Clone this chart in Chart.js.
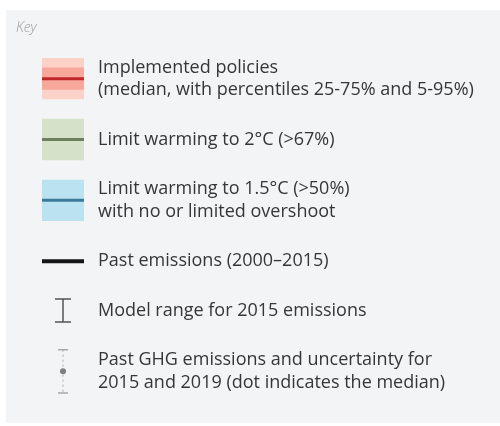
<!DOCTYPE html>
<html><head><meta charset="utf-8">
<script src="https://cdn.jsdelivr.net/npm/chart.js@4.4.1/dist/chart.umd.min.js"></script>
<style>html,body{margin:0;padding:0;background:#fff}canvas{display:block}</style>
</head><body><canvas id="c" width="500" height="426"></canvas>
<script>
// ---- content ----
const keyTitle = 'Key';
const keyLabels = [
  ['Implemented policies', '(median, with percentiles 25-75% and 5-95%)'],
  ['Limit warming to 2°C (>67%)'],
  ['Limit warming to 1.5°C (>50%)', 'with no or limited overshoot'],
  ['Past emissions (2000–2015)'],
  ['Model range for 2015 emissions'],
  ['Past GHG emissions and uncertainty for', '2015 and 2019 (dot indicates the median)']
];
const keyMarkers = ['band2', 'band1', 'band1', 'line', 'range', 'uncertainty'];

// ---- styles (kept apart from the content) ----
const markerStyles = [
  {outer: '#fcd1c8', inner: '#f8a79b', line: '#c1272b', lw: 3},
  {outer: '#d6e1ca', inner: '#d6e1ca', line: '#6e7f5f', lw: 3},
  {outer: '#bae2f1', inner: '#bae2f1', line: '#3c7c98', lw: 3},
  {line: '#151515', lw: 4},
  {line: '#555555', lw: 1.5},
  {line: '#a8a8a8', dot: '#7f7f7f', lw: 1}
];
const ROW_GAP = 1.16;       // gap between entries, in text-line units
const SWATCH_HALF = 0.89;   // half height of swatch, in text-line units
const INNER_HALF = 0.47;
const RANGE_HALF = 0.5;
const UNC_HALF = 0.95;

// row centres derived from the number of text lines per entry
const rows = [];
keyLabels.forEach((l, i) => {
  rows.push(i === 0 ? 0 : rows[i - 1] + (keyLabels[i - 1].length + l.length) / 2 + ROW_GAP);
});

const datasets = [];
const common = {xAxisID: 'x', yAxisID: 'y'};
keyMarkers.forEach((kind, i) => {
  const p = rows[i], s = markerStyles[i];
  if (kind === 'band2' || kind === 'band1') {
    datasets.push({...common, type: 'bar', order: 3, data: [{x: 0.5, y: [p - SWATCH_HALF, p + SWATCH_HALF]}],
      backgroundColor: s.outer, borderWidth: 0, barThickness: 42, grouped: false});
    if (kind === 'band2') {
      datasets.push({...common, type: 'bar', order: 2, data: [{x: 0.5, y: [p - INNER_HALF, p + INNER_HALF]}],
        backgroundColor: s.inner, borderWidth: 0, barThickness: 42, grouped: false});
    }
    datasets.push({...common, type: 'line', order: 1, data: [{x: 0, y: p}, {x: 1, y: p}],
      borderColor: s.line, borderWidth: s.lw, pointRadius: 0, borderCapStyle: 'butt'});
  } else if (kind === 'line') {
    datasets.push({...common, type: 'line', order: 1, data: [{x: 0, y: p}, {x: 1, y: p}],
      borderColor: s.line, borderWidth: s.lw, pointRadius: 0, borderCapStyle: 'butt'});
  } else if (kind === 'range') {
    datasets.push({...common, type: 'line', order: 1, data: [{x: 0.5, y: p - RANGE_HALF}, {x: 0.5, y: p + RANGE_HALF}],
      borderColor: s.line, borderWidth: s.lw, pointStyle: 'line', pointRadius: 8,
      pointBorderColor: s.line, pointBorderWidth: s.lw});
  } else if (kind === 'uncertainty') {
    datasets.push({...common, type: 'line', order: 1, data: [{x: 0.5, y: p - UNC_HALF}, {x: 0.5, y: p}, {x: 0.5, y: p + UNC_HALF}],
      borderColor: s.line, borderWidth: s.lw, borderDash: [2, 3],
      pointStyle: ['line', 'circle', 'line'], pointRadius: [5, 3, 5],
      pointBorderColor: [s.line, s.dot, s.line], pointBackgroundColor: s.dot, pointBorderWidth: [1.5, 0, 1.5]});
  }
});

const panelBg = {
  id: 'panelBg',
  beforeDraw(chart) {
    const c = chart.ctx;
    c.save();
    c.fillStyle = '#ffffff';
    c.fillRect(0, 0, chart.width, chart.height);
    c.fillStyle = '#f3f4f6';
    c.fillRect(6, 10, chart.width - 6, chart.height - 13);
    c.restore();
  }
};

new Chart(document.getElementById('c'), {
  data: {datasets},
  plugins: [panelBg],
  options: {
    responsive: false,
    animation: false,
    events: [],
    layout: {padding: {left: 16, right: 0, top: 0, bottom: 0}},
    plugins: {
      legend: {display: false},
      tooltip: {enabled: false},
      title: {
        display: true, text: keyTitle, align: 'start', color: '#9c9c9c',
        font: {family: 'Open Sans', size: 14, style: 'italic', weight: '300', lineHeight: 1.2},
        padding: {top: 20, bottom: 5}
      }
    },
    scales: {
      y: {type: 'linear', position: 'right', reverse: true, min: -1.613, max: 14.774,
        grid: {display: false, drawTicks: false}, border: {display: false},
        afterBuildTicks(s) { s.ticks = rows.map(v => ({value: v})); },
        afterFit(s) { s.width = 416; s.paddingTop = 0; s.paddingBottom = 0; },
        ticks: {
          autoSkip: false, padding: 14, color: '#363636',
          font: {family: 'Open Sans', size: 18, lineHeight: 1.25},
          callback: (v, i) => keyLabels[i]
        }
      },
      x: {type: 'linear', min: 0, max: 1, display: false, offset: false},
      yl: {type: 'linear', position: 'left', display: true,
        ticks: {display: false}, grid: {display: false, drawTicks: false}, border: {display: false},
        afterFit(s) { s.width = 26; s.paddingTop = 0; s.paddingBottom = 0; }}
    }
  }
});
</script>
</body></html>
